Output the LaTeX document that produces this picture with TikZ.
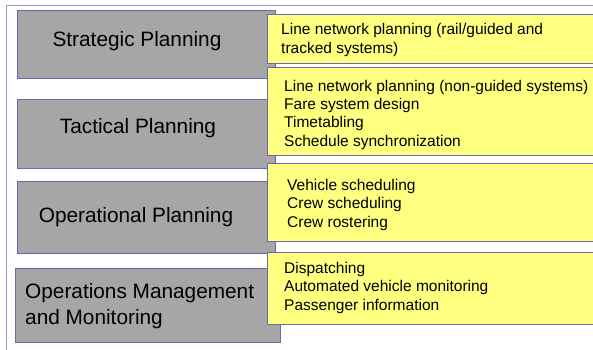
\documentclass[tikz,border=0pt]{standalone}
\usepackage{fontspec}
\setmainfont{Liberation Sans}
\usepackage{xcolor}
\usepackage{tikz}

\definecolor{levelfill}{RGB}{166,166,166}
\definecolor{taskfill}{RGB}{255,255,128}
\definecolor{edgeblue}{RGB}{104,104,176}
\definecolor{frameblue}{RGB}{150,150,204}

\tikzset{
  levelbox/.style={draw=edgeblue, fill=levelfill, line width=0.8pt, inner sep=0pt},
  taskbox/.style={draw=edgeblue, fill=taskfill, line width=0.8pt, inner sep=0pt},
  levellabel/.style={font=\fontsize{20.8}{26}\selectfont, inner sep=0pt},
  tasklist/.style={font=\fontsize{15.5}{18.3}\selectfont, align=left, anchor=base west, inner sep=0pt}
}

\begin{document}
\begin{tikzpicture}[x=1pt,y=-1pt]
 \clip (0,0) rectangle (593,349);
 \fill[white] (0,0) rectangle (593,349);
 \coordinate (F0) at (6,360);
 \coordinate (F1) at (6,5);
 \coordinate (F2) at (600,5);
 \draw[frameblue, line width=0.9pt] (F0)--(F1)--(F2);

 % planning levels
 \node[levelbox, minimum width=258, minimum height=68] (strat) at (146,44) {};
 \node[levelbox, minimum width=258, minimum height=69] (tact) at (146,133.5) {};
 \node[levelbox, minimum width=258, minimum height=72] (oper) at (146,217) {};
 \node[levelbox, minimum width=265, minimum height=74] (mgmt) at (147.5,305) {};

 % tasks per level
 \node[taskbox, minimum width=360, minimum height=49] (stratT) at (447,38.5) {};
 \node[taskbox, minimum width=360, minimum height=88] (tactT) at (447,111) {};
 \node[taskbox, minimum width=360, minimum height=78] (operT) at (447,202) {};
 \node[taskbox, minimum width=360, minimum height=72] (mgmtT) at (447,288) {};

 \node[levellabel] (stratL) at (137,41) {Strategic Planning};
 \node[levellabel] (tactL) at (138,128) {Tactical Planning};
 \node[levellabel] (operL) at (136,217) {Operational Planning};
 % base anchor sits on the last line
 \node[levellabel, align=left, anchor=base west] (mgmtL) at (25,324)
   {Operations Management\\and Monitoring};

 \node[tasklist] (stratX) at (281,53)
   {Line network planning (rail/guided and\\tracked systems)};
 \node[tasklist] (tactX) at (284,146)
   {Line network planning (non-guided systems)\\Fare system design\\Timetabling\\Schedule synchronization};
 \node[tasklist] (operX) at (287,227)
   {Vehicle scheduling\\Crew scheduling\\Crew rostering};
 \node[tasklist] (mgmtX) at (284,310)
   {Dispatching\\Automated vehicle monitoring\\Passenger information};
\end{tikzpicture}
\end{document}
